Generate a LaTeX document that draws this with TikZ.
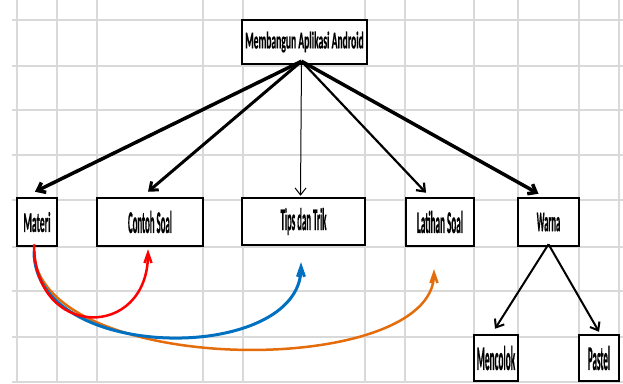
\documentclass[tikz,border=0pt]{standalone}
\usepackage{fontspec}
\usepackage{graphicx}
\setmainfont[BoldFeatures={FakeBold=0.8}]{Carlito}
\usetikzlibrary{arrows.meta}
\definecolor{excelblue}{RGB}{0,112,192}
\definecolor{excelorange}{RGB}{228,108,10}
% 字号 #1,横向压缩 #2
\newcommand{\sempit}[3]{{\fontsize{#1}{#1}\selectfont\scalebox{#2}[1]{#3}}}
\tikzset{box/.style={draw,line width=2.5pt,fill=white,inner sep=0pt,font=\bfseries}, gridline/.style={gray!30,line width=1.2pt}}
\tikzstyle{arrow} = [-{Straight Barb[length=7pt,width=11pt]}]
\tikzstyle{curvearrow} = [-{Straight Barb[length=10pt,width=7pt]}]

\begin{document}
\begin{tikzpicture}[x=1pt,y=-1pt]
\useasboundingbox (0,0) rectangle (623,383);
% 背景的表格线,先画横线再画竖线
\draw[gridline] (12,20) -- (623,20) (12,66) -- (623,66) (12,110) -- (623,110) (12,155) -- (623,155) (12,200) -- (623,200) (12,247) -- (623,247) (12,291) -- (623,291) (12,337) -- (623,337) (12,382) -- (623,382);
\draw[gridline] (17,0) -- (17,383) (57,0) -- (57,383) (97,0) -- (97,383) (203,0) -- (203,383) (243,0) -- (243,383) (365,0) -- (365,383) (405,0) -- (405,383) (474,0) -- (474,383) (518,0) -- (518,383) (579,0) -- (579,383) (619,0) -- (619,383);

% 最上面的方框
\node[box,minimum width=125pt,minimum height=44pt] (android) at (304.5,42) {\sempit{24}{0.40}{Membangun Aplikasi Android}};
% 第二层的五个方框
\node[box,minimum width=40pt,minimum height=48pt] (materi) at (37,222) {\sempit{28.5}{0.34}{Materi}};
\node[box,minimum width=106pt,minimum height=48pt] (contoh) at (150,222) {\sempit{31.5}{0.28}{Contoh Soal}};
\node[box,minimum width=123pt,minimum height=47pt] (tips) at (303.5,221.5) {\sempit{31.5}{0.28}{Tips dan Trik}};
\node[box,minimum width=68pt,minimum height=48pt] (latihan) at (440,222) {\sempit{31.5}{0.29}{Latihan Soal}};
\node[box,minimum width=61pt,minimum height=48pt] (warna) at (548.5,222) {\sempit{28.5}{0.30}{Warna}};
% Warna 下面的两个方框
\node[box,minimum width=44pt,minimum height=46pt] (mencolok) at (496,358) {\sempit{34.5}{0.27}{Mencolok}};
\node[box,minimum width=40pt,minimum height=46pt] (pastel) at (599,358) {\sempit{34.5}{0.26}{Pastel}};

% 所有箭头都从同一点 hub 出发
\coordinate (hub) at ([shift={(-3,-4)}]android.south);
\draw[arrow,line width=3.5pt] (hub) -- ([shift={(-2,-5)}]materi.north);
\draw[arrow,line width=3pt] (hub) -- ([shift={(-2,-5)}]contoh.north);
\draw[arrow,line width=1pt] (hub) -- ([shift={(-3,-1)}]tips.north);
\draw[arrow,line width=2.2pt] (hub) -- ([shift={(-14,-4)}]latihan.north);
\draw[arrow,line width=3.5pt] (hub) -- ([shift={(-10,-3)}]warna.north);
% Warna 分成 Mencolok 和 Pastel
\draw[arrow,line width=2pt] ([yshift=3pt]warna.south) -- ([shift={(-1,-5)}]mencolok.north);
\draw[arrow,line width=2pt] ([yshift=3pt]warna.south) -- ([shift={(0,-2)}]pastel.north);

% Materi 下面的三条弯箭头,橙色在最下,红色在最上
\draw[curvearrow,excelorange,line width=2.5pt] ([shift={(-3,9)}]materi.south) .. controls (50,378) and (434,378) .. ([shift={(-6,22)}]latihan.south);
\draw[curvearrow,excelblue,line width=3pt] ([shift={(-3,4)}]materi.south) .. controls (34,364) and (301,364) .. ([shift={(-2.5,16)}]tips.south);
\draw[curvearrow,red,line width=2.5pt] ([shift={(-3,-3)}]materi.south) .. controls (34,340) and (148,340) .. ([shift={(-2,2)}]contoh.south);
\end{tikzpicture}
\end{document}
